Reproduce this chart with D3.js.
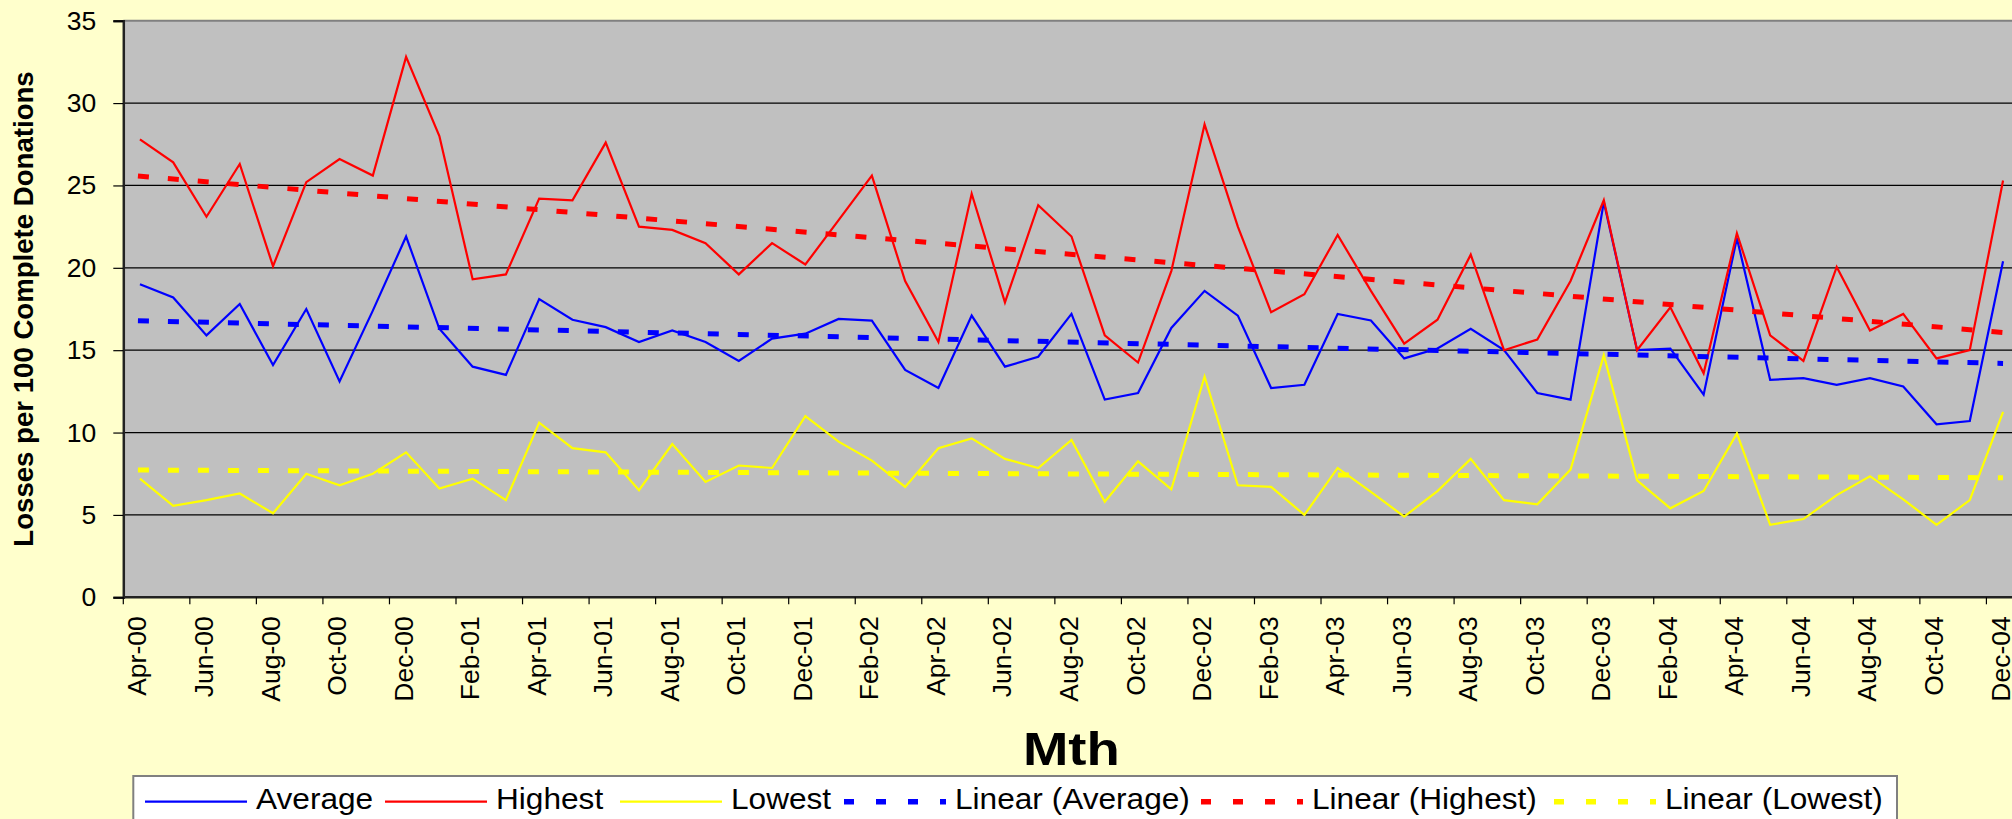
<!DOCTYPE html>
<html>
<head>
<meta charset="utf-8">
<script src="https://cdn.jsdelivr.net/npm/d3@7"></script>
<style>
  body { margin: 0; background: #ffffcc; }
  svg { display: block; font-family: "Liberation Sans", Arial, sans-serif; }
</style>
</head>
<body>
<svg id="chart" width="2012" height="819"></svg>
<script>
// Mois (Apr-00 .. Dec-04)
const months = [
  "Apr-00","May-00","Jun-00","Jul-00","Aug-00","Sep-00","Oct-00","Nov-00","Dec-00",
  "Jan-01","Feb-01","Mar-01","Apr-01","May-01","Jun-01","Jul-01","Aug-01","Sep-01","Oct-01","Nov-01","Dec-01",
  "Jan-02","Feb-02","Mar-02","Apr-02","May-02","Jun-02","Jul-02","Aug-02","Sep-02","Oct-02","Nov-02","Dec-02",
  "Jan-03","Feb-03","Mar-03","Apr-03","May-03","Jun-03","Jul-03","Aug-03","Sep-03","Oct-03","Nov-03","Dec-03",
  "Jan-04","Feb-04","Mar-04","Apr-04","May-04","Jun-04","Jul-04","Aug-04","Sep-04","Oct-04","Nov-04","Dec-04"
]

const average = [19.0, 18.2, 15.9, 17.8, 14.1, 17.5, 13.1, 17.4, 21.9, 16.3, 14.0, 13.5,
  18.1, 16.85, 16.4, 15.5, 16.2, 15.5, 14.35, 15.7, 16.0, 16.9, 16.8, 13.8, 12.7, 17.1,
  14.0, 14.6, 17.2, 12.0, 12.4, 16.35, 18.6, 17.1, 12.7, 12.9, 17.2, 16.8, 14.5, 15.1, 16.3,
  15.0, 12.4, 12.0, 24.0, 15.0, 15.1, 12.3, 21.8, 13.2, 13.3, 12.9, 13.3, 12.8, 10.5, 10.7, 20.4]

const highest = [27.8, 26.4, 23.1, 26.3, 20.1, 25.2, 26.6, 25.6, 32.8, 28.0, 19.3, 19.6,
  24.2, 24.1, 27.6, 22.5, 22.3, 21.5, 19.6, 21.5, 20.2, 22.9, 25.6, 19.2, 15.5, 24.5,
  17.9, 23.8, 21.9, 15.9, 14.25, 19.8, 28.7, 22.5, 17.3, 18.4, 22.0, 18.6, 15.4, 16.85, 20.8,
  15.0, 15.65, 19.2, 24.1, 15.0, 17.6, 13.6, 22.1, 15.9, 14.35, 20.05, 16.2, 17.2, 14.5, 15.0, 25.3]

const lowest = [7.2, 5.55, 5.9, 6.3, 5.1, 7.5, 6.8, 7.5, 8.8, 6.6, 7.2, 5.9,
  10.6, 9.05, 8.8, 6.5, 9.3, 7.0, 8.0, 7.85, 11.0, 9.45, 8.3, 6.7, 9.05, 9.65,
  8.4, 7.85, 9.55, 5.8, 8.25, 6.55, 13.4, 6.8, 6.7, 5.0, 7.85, 6.4, 4.9, 6.45, 8.4,
  5.9, 5.65, 7.75, 14.7, 7.1, 5.4, 6.45, 9.95, 4.4, 4.75, 6.2, 7.35, 5.95, 4.4, 5.9, 11.25]

const yTicks = [0, 5, 10, 15, 20, 25, 30, 35]
const seriesNames = ["Average", "Highest", "Lowest"]
const seriesColors = ["#0000ff", "#ff0000", "#ffff00"]
const seriesValues = [average, highest, lowest]

// Dimensions (le graphique d'origine est coupé à droite)
const plotLeft = 123.3, plotTop = 20.7, plotBottom = 597.3
const band = 33.27
const plotRight = plotLeft + band * months.length

const svg = d3.select("#chart")

const x = d3.scaleBand()
    .domain(months)
    .range([plotLeft, plotRight])
const xc = d => x(d) + x.bandwidth() / 2

const y = d3.scaleLinear()
    .domain([0, 35])
    .range([plotBottom, plotTop])

// Zone de tracé
svg.append("rect")
    .attr("x", plotLeft)
    .attr("y", plotTop)
    .attr("width", plotRight - plotLeft)
    .attr("height", plotBottom - plotTop)
    .attr("fill", "#c0c0c0")

// Grille
svg.append("g")
    .selectAll("line")
    .data(yTicks.filter(d => d > 0 && d < 35))
    .enter()
    .append("line")
    .attr("x1", plotLeft)
    .attr("x2", plotRight)
    .attr("y1", d => y(d))
    .attr("y2", d => y(d))
    .attr("stroke", "#000")
    .attr("stroke-width", 1.2)

// bord supérieur
svg.append("line")
    .attr("x1", plotLeft).attr("x2", plotRight)
    .attr("y1", y(35)).attr("y2", y(35))
    .attr("stroke", "#808080")
    .attr("stroke-width", 2)

// Axe Y
const yAxis = svg.append("g")
    .attr("transform", `translate(${plotLeft},0)`)
    .call(d3.axisLeft(y).tickValues(yTicks).tickSize(10).tickPadding(17))
yAxis.select(".domain").attr("stroke", "#222").attr("stroke-width", 2.5)
yAxis.selectAll(".tick line").attr("stroke", "#000").attr("stroke-width", 1.2)
yAxis.selectAll(".tick text")
    .attr("font-size", "26.5px")
    .attr("font-family", "Liberation Sans, Arial, sans-serif")
    .attr("fill", "#000")
    .attr("dy", "0.32em")

// Axe X
const xAxis = svg.append("g")
    .attr("transform", `translate(0,${plotBottom})`)
xAxis.append("line")
    .attr("x1", plotLeft).attr("x2", plotRight)
    .attr("stroke", "#222").attr("stroke-width", 2.5)
xAxis.selectAll(".xtick")
    .data(months.filter((d, i) => i % 2 === 0))
    .enter()
    .append("line")
    .attr("x1", d => x(d)).attr("x2", d => x(d))
    .attr("y1", 0).attr("y2", 7)
    .attr("stroke", "#000").attr("stroke-width", 1.2)
xAxis.selectAll(".xlabel")
    .data(months.filter((d, i) => i % 2 === 0))
    .enter()
    .append("text")
    .attr("transform", d => `translate(${xc(d) + 0.5},19) rotate(-90)`)
    .attr("text-anchor", "end")
    .attr("dy", 6)
    .attr("font-size", "26.5px")
    .text(d => d)

// Séries
const line = d3.line()
    .x((d, i) => xc(months[i]))
    .y(d => y(d))

seriesValues.forEach((vals, k) => {
    svg.append("path")
        .datum(vals)
        .attr("d", line)
        .attr("fill", "none")
        .attr("stroke", seriesColors[k])
        .attr("stroke-width", 2.2)
        .attr("stroke-linejoin", "miter")
})

// Courbes de tendance (moindres carrés, comme Excel)
function linearFit(vals) {
    const n = vals.length
    const mx = d3.mean(vals, (d, i) => i)
    const my = d3.mean(vals)
    let sxy = 0, sxx = 0
    vals.forEach((v, i) => { sxy += (i - mx) * (v - my); sxx += (i - mx) * (i - mx) })
    const b = sxy / sxx
    const a = my - b * mx
    return [a, a + b * (n - 1)]
}

seriesValues.forEach((vals, k) => {
    const [y0, y1] = linearFit(vals)
    svg.append("line")
        .attr("x1", xc(months[0]) - 2)
        .attr("x2", xc(months[months.length - 1]))
        .attr("y1", y(y0))
        .attr("y2", y(y1))
        .attr("stroke", seriesColors[k])
        .attr("stroke-width", 5)
        .attr("stroke-dasharray", "11,19")
})

// Titres des axes
svg.append("text")
    .attr("transform", `translate(33.3,${(plotTop + plotBottom) / 2}) rotate(-90)`)
    .attr("text-anchor", "middle")
    .attr("font-size", "27.6px")
    .attr("font-weight", "bold")
    .text("Losses per 100 Complete Donations")

svg.append("text")
    .attr("x", 1071.4)
    .attr("y", 765)
    .attr("text-anchor", "middle")
    .attr("font-size", "47px")
    .attr("font-weight", "bold")
    .text("Mth")
    .each(function () {
        this.setAttribute("textLength", this.getComputedTextLength() * 1.16)
        this.setAttribute("lengthAdjust", "spacingAndGlyphs")
    })

// Légende
const legendItems = [
    { name: seriesNames[0], color: seriesColors[0], dash: null },
    { name: seriesNames[1], color: seriesColors[1], dash: null },
    { name: seriesNames[2], color: seriesColors[2], dash: null },
    { name: "Linear (" + seriesNames[0] + ")", color: seriesColors[0], dash: "10,22" },
    { name: "Linear (" + seriesNames[1] + ")", color: seriesColors[1], dash: "10,22" },
    { name: "Linear (" + seriesNames[2] + ")", color: seriesColors[2], dash: "10,22" }
]
// départ de chaque entrée de légende
const legendX = [145, 385, 620, 844, 1201, 1554]

const legend = svg.append("g")
legend.append("rect")
    .attr("x", 133.3)
    .attr("y", 776)
    .attr("width", 1897 - 133.3)
    .attr("height", 80)
    .attr("fill", "#fff")
    .attr("stroke", "#808080")
    .attr("stroke-width", 2)

const ly = 801.7
legendItems.forEach((item, i) => {
    const lx = legendX[i]
    legend.append("line")
        .attr("x1", lx).attr("x2", lx + 102)
        .attr("y1", ly).attr("y2", ly)
        .attr("stroke", item.color)
        .attr("stroke-width", item.dash ? 5.5 : 2.2)
        .attr("stroke-dasharray", item.dash)
    const t = legend.append("text")
        .attr("x", lx + 111)
        .attr("y", ly + 6.8)
        .attr("font-size", "29px")
        .text(item.name)
    const w = t.node().getComputedTextLength() * 1.09
    t.attr("textLength", w).attr("lengthAdjust", "spacingAndGlyphs")
})
</script>
</body>
</html>
